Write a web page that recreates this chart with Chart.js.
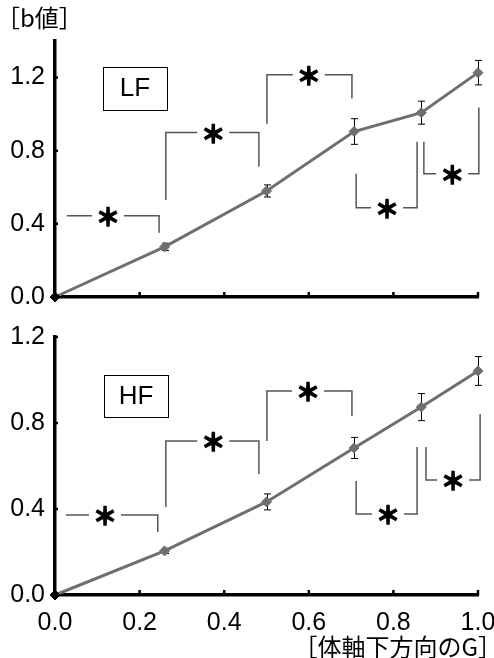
<!DOCTYPE html>
<html><head><meta charset="utf-8">
<script src="https://cdn.jsdelivr.net/npm/chart.js@4.4.0/dist/chart.umd.min.js"></script>
<style>
html,body{margin:0;padding:0;background:#fff;}
#wrap{position:relative;width:494px;height:658px;overflow:hidden;}
canvas{position:absolute;left:0;}
</style></head><body>
<div id="wrap">
<canvas id="c1" width="494" height="320" style="top:0;width:494px;height:320px"></canvas>
<canvas id="c2" width="494" height="338" style="top:320px;width:494px;height:338px"></canvas>
</div>
<script>
// ---- data ----
const gValues   = [0, 0.259, 0.5, 0.707, 0.866, 1.0];
const lfValues  = [0, 0.274, 0.58, 0.905, 1.008, 1.227];
const lfErrors  = [0, 0.02, 0.033, 0.07, 0.063, 0.067];
const hfValues  = [0, 0.205, 0.433, 0.684, 0.874, 1.042];
const hfErrors  = [0, 0.012, 0.037, 0.049, 0.063, 0.067];
const xTickValues = [0, 0.2, 0.4, 0.6, 0.8, 1.0];
const yTickValues = [0, 0.4, 0.8, 1.2];
const yAxisLabel = '［b値］';
const xAxisLabel = '［体軸下方向のG］';
const lfName = 'LF';
const hfName = 'HF';
const sigMark = '＊';
// significance brackets (data units): [x1, x2, yBar, yLeftEnd, yRightEnd, xStar]
const lfBrackets = [
  [0.028, 0.246, 0.444, null, 0.351, 0.125],
  [0.262, 0.482, 0.899, 0.53, 0.712, 0.374],
  [0.501, 0.702, 1.216, 0.948, 1.085, 0.600],
  [0.712, 0.856, 0.488, 0.674, 0.849, 0.785],
  [0.872, 1.002, 0.674, 0.849, 1.036, 0.939]
];
const hfBrackets = [
  [0.026, 0.243, 0.372, null, 0.293, 0.118],
  [0.262, 0.482, 0.716, 0.409, 0.563, 0.374],
  [0.501, 0.702, 0.949, 0.716, 0.833, 0.598],
  [0.712, 0.856, 0.377, 0.530, 0.688, 0.787],
  [0.877, 1.005, 0.535, 0.688, 0.842, 0.941]
];
// label box extents (data units): [x1, x2, yTop, yBottom]
const lfBox = [0.113, 0.265, 1.26, 1.025];
const hfBox = [0.116, 0.267, 1.023, 0.828];

const LINE_GRAY = '#6f6f6f';

const overlay = {
  id: 'overlay',
  beforeDatasetsDraw(chart, args, o) {
    const ctx = chart.ctx, xs = chart.scales.x, ys = chart.scales.y;
    ctx.save();
    // error bars
    ctx.strokeStyle = '#000'; ctx.lineWidth = 1;
    o.values.forEach((v, i) => {
      const e = o.errors[i]; if (!e) return;
      const px = Math.round(xs.getPixelForValue(gValues[i])) + 0.5;
      const t = ys.getPixelForValue(v + e), b = ys.getPixelForValue(v - e);
      ctx.beginPath();
      ctx.moveTo(px, t); ctx.lineTo(px, b);
      ctx.moveTo(px - 3.5, t); ctx.lineTo(px + 3.5, t);
      ctx.moveTo(px - 3.5, b); ctx.lineTo(px + 3.5, b);
      ctx.stroke();
    });
    // brackets
    ctx.strokeStyle = '#555'; ctx.lineWidth = 1.5;
    o.brackets.forEach(b => {
      const [x1, x2, yb, yl, yr, xsv] = b;
      const p1 = xs.getPixelForValue(x1), p2 = xs.getPixelForValue(x2);
      const pb = ys.getPixelForValue(yb), pst = xs.getPixelForValue(xsv);
      ctx.beginPath();
      if (yl !== null) { ctx.moveTo(p1, ys.getPixelForValue(yl)); ctx.lineTo(p1, pb); }
      else ctx.moveTo(p1, pb);
      ctx.lineTo(pst - 16, pb);
      ctx.moveTo(pst + 16, pb);
      ctx.lineTo(p2, pb);
      ctx.lineTo(p2, ys.getPixelForValue(yr));
      ctx.stroke();
    });
    ctx.fillStyle = '#000'; ctx.strokeStyle = '#000'; ctx.lineWidth = 1.6;
    ctx.font = 'bold 24px "Noto Sans CJK JP", sans-serif';
    ctx.textAlign = 'center'; ctx.textBaseline = 'middle';
    o.brackets.forEach(b => {
      const pst = xs.getPixelForValue(b[5]), pb = ys.getPixelForValue(b[2]);
      ctx.fillText(sigMark, pst, pb + 1);
      ctx.strokeText(sigMark, pst, pb + 1);
    });
    // name box
    const bx = o.box;
    const bx1 = xs.getPixelForValue(bx[0]), bx2 = xs.getPixelForValue(bx[1]);
    const by1 = ys.getPixelForValue(bx[2]), by2 = ys.getPixelForValue(bx[3]);
    ctx.strokeStyle = '#000'; ctx.lineWidth = 1;
    ctx.strokeRect(Math.round(bx1) + 0.5, Math.round(by1) + 0.5, Math.round(bx2 - bx1), Math.round(by2 - by1));
    ctx.font = '26px "Liberation Sans", Arial, sans-serif';
    ctx.fillText(o.name, (bx1 + bx2) / 2, (by1 + by2) / 2 + 1);
    ctx.restore();
  },
  afterDraw(chart, args, o) {
    const ctx = chart.ctx, xs = chart.scales.x, ys = chart.scales.y;
    const ca = chart.chartArea;
    ctx.save();
    ctx.strokeStyle = '#000'; ctx.lineWidth = 2.5;
    ctx.beginPath();
    xTickValues.forEach(v => { const p = xs.getPixelForValue(v); if (v === 0) return; ctx.moveTo(p, ca.bottom); ctx.lineTo(p, ca.bottom - 5); });
    yTickValues.forEach(v => { const p = ys.getPixelForValue(v); if (v === 0) return; ctx.moveTo(ca.left, p); ctx.lineTo(ca.left + 3, p); });
    ctx.stroke();
    ctx.fillStyle = '#000';
    ctx.textBaseline = 'middle';
    if (o.yTitle) { ctx.font = '24px "Noto Sans CJK JP", sans-serif'; ctx.textAlign = 'left'; ctx.fillText(o.yTitle, -4, 18); }
    if (o.xTitle) { ctx.font = '24px "Noto Sans CJK JP", sans-serif'; ctx.textAlign = 'right'; ctx.fillText(o.xTitle, 502, chart.height - 11); }
    ctx.restore();
  }
};

function makeChart(id, values, errors, brackets, box, name, yMax, pad, xAxisH, showX, titles) {
  return new Chart(document.getElementById(id), {
    type: 'line',
    data: {
      datasets: [{
        data: gValues.map((g, i) => ({ x: g, y: values[i] })),
        borderColor: LINE_GRAY,
        borderWidth: 3,
        pointStyle: 'rectRot',
        pointRadius: 5,
        pointBackgroundColor: c => c.dataIndex === 0 ? '#000' : LINE_GRAY,
        pointBorderColor: c => c.dataIndex === 0 ? '#000' : LINE_GRAY,
        pointBorderWidth: 1,
        tension: 0,
        clip: false
      }]
    },
    options: {
      responsive: false,
      animation: false,
      devicePixelRatio: 1,
      layout: { padding: pad },
      plugins: {
        legend: { display: false },
        tooltip: { enabled: false },
        overlay: Object.assign({ values, errors, brackets, box, name }, titles)
      },
      scales: {
        x: {
          type: 'linear', min: 0, max: 1,
          afterBuildTicks: s => { s.ticks = xTickValues.map(v => ({ value: v })); },
          afterFit: s => { s.height = xAxisH; s.paddingLeft = 0; s.paddingRight = 0; },
          grid: { display: false, drawTicks: false },
          border: { display: true, color: '#000', width: 3.5 },
          ticks: {
            display: showX, padding: 13, color: '#000', maxRotation: 0, autoSkip: false,
            font: { family: '"Liberation Sans", Arial, sans-serif', size: 25 },
            callback: v => Number(v).toFixed(1)
          }
        },
        y: {
          type: 'linear', min: 0, max: yMax,
          afterBuildTicks: s => { s.ticks = yTickValues.map(v => ({ value: v })); },
          afterFit: s => { s.width = 55; s.paddingTop = 0; s.paddingBottom = 0; },
          grid: { display: false, drawTicks: false },
          border: { display: true, color: '#000', width: 3.5 },
          ticks: {
            padding: 10, color: '#000', autoSkip: false,
            font: { family: '"Liberation Sans", Arial, sans-serif', size: 25 },
            callback: v => Number(v).toFixed(1)
          }
        }
      }
    },
    plugins: [overlay]
  });
}

makeChart('c1', lfValues, lfErrors, lfBrackets, lfBox, lfName, 1.4,
  { top: 41, right: 16, left: 0, bottom: 0 }, 23, false, { yTitle: yAxisLabel });
makeChart('c2', hfValues, hfErrors, hfBrackets, hfBox, hfName, 1.2,
  { top: 17, right: 16, left: 0, bottom: 0 }, 63, true, { xTitle: xAxisLabel });
</script>
</body></html>
